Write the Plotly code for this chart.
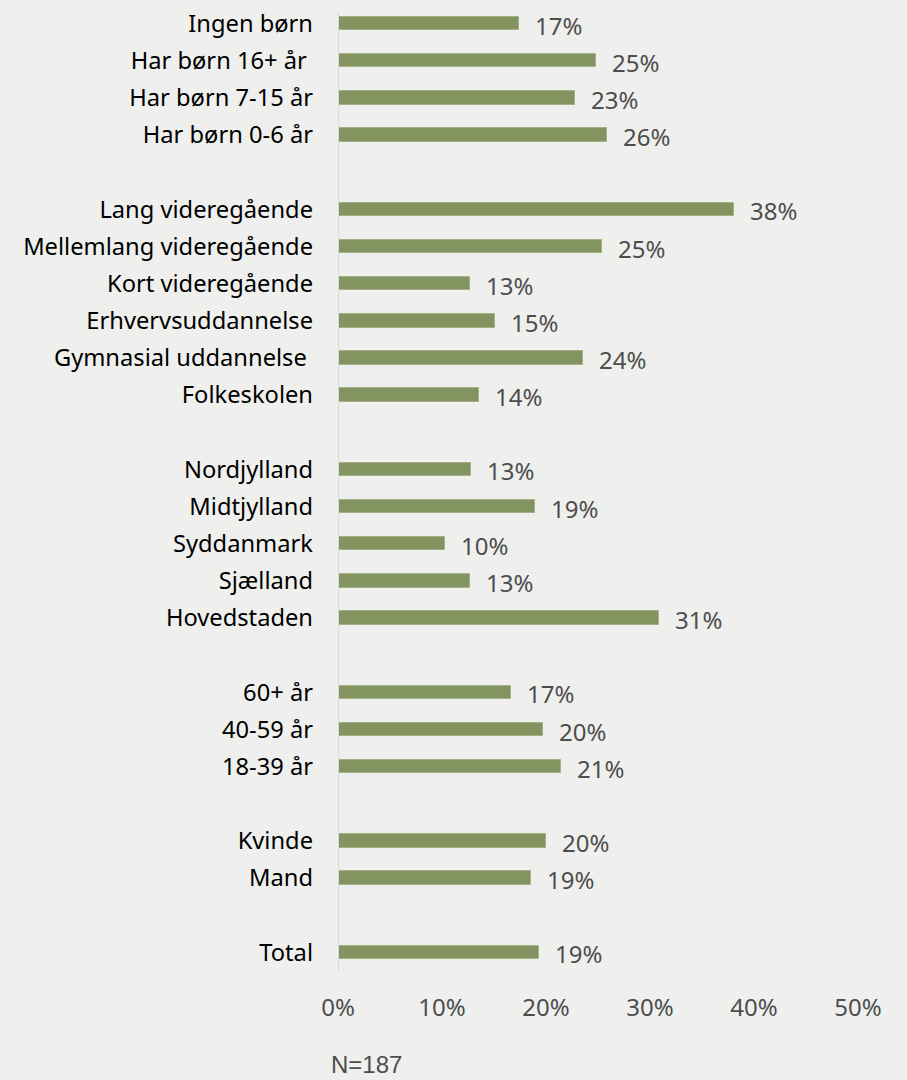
import plotly.graph_objects as go

# Groups (top to bottom); a blank row separates groups
group_children = ["Ingen børn", "Har børn 16+ år\u00a0", "Har børn 7-15 år", "Har børn 0-6 år"]
values_children = [0.174, 0.248, 0.228, 0.259]

group_education = ["Lang videregående", "Mellemlang videregående", "Kort videregående",
                   "Erhvervsuddannelse", "Gymnasial uddannelse\u00a0", "Folkeskolen"]
values_education = [0.381, 0.254, 0.127, 0.151, 0.236, 0.136]

group_region = ["Nordjylland", "Midtjylland", "Syddanmark", "Sjælland", "Hovedstaden"]
values_region = [0.128, 0.189, 0.103, 0.127, 0.309]

group_age = ["60+ år", "40-59 år", "18-39 år"]
values_age = [0.166, 0.197, 0.214]

group_gender = ["Kvinde", "Mand"]
values_gender = [0.200, 0.186]

group_total = ["Total"]
values_total = [0.193]

x_ticks = [0, 0.1, 0.2, 0.3, 0.4, 0.5]
x_ticklabels = ["0%", "10%", "20%", "30%", "40%", "50%"]
note = "N=187"

groups = [(group_children, values_children), (group_education, values_education),
          (group_region, values_region), (group_age, values_age),
          (group_gender, values_gender), (group_total, values_total)]

cats, vals, pos = [], [], []
p = 0
for c, v in groups:
    for ci, vi in zip(c, v):
        cats.append(ci)
        vals.append(vi)
        pos.append(p)
        p += 1
    p += 1  # blank separator row
last = pos[-1]

BG = "#eff0ed"
BAR = "#849460"
GRAY = "#4d4d4d"
FONT = "Noto Sans"

fig = go.Figure()
fig.add_trace(go.Bar(
    x=vals, y=pos, orientation="h", width=0.36,
    marker=dict(color=BAR, line=dict(color="#a3b184", width=1)),
    hoverinfo="skip",
))

for v, yy in zip(vals, pos):
    fig.add_annotation(x=v, y=yy, text=f"{round(v*100)}%", showarrow=False,
                       xanchor="left", yanchor="middle", xshift=14, yshift=-1.5,
                       font=dict(family=FONT, size=24, color=GRAY))

fig.add_annotation(x=0, y=0.0, xref="paper", yref="paper", text=note, showarrow=False,
                   xanchor="left", yanchor="middle", xshift=-8, yshift=-93, borderpad=0,
                   font=dict(family="Liberation Sans", size=24, color=GRAY))

# vertical axis line at 0%
fig.add_shape(type="line", xref="x", yref="y", x0=0, x1=0, y0=pos[0] - 0.3, y1=last + 0.5,
              line=dict(color="#d9d9d9", width=2))

fig.update_layout(
    width=907, height=1080,
    paper_bgcolor=BG, plot_bgcolor=BG,
    margin=dict(l=338, r=49, t=5, b=109),
    showlegend=False,
    bargap=0,
    xaxis=dict(range=[0, 0.5], tickvals=x_ticks, ticktext=x_ticklabels,
               showgrid=False, zeroline=False, showline=False,
               tickfont=dict(family=FONT, size=24, color=GRAY),
               ticks="", ticklabelstandoff=20, fixedrange=True),
    yaxis=dict(range=[last + 0.5, -0.5], tickvals=pos, ticktext=cats,
               showgrid=False, zeroline=False, showline=False,
               tickfont=dict(family=FONT, size=23.7, color="#000000"),
               ticks="", ticklabelstandoff=24, fixedrange=True),
)

fig.write_html("out.html", config={"displayModeBar": False},
               post_script="document.body.style.margin='0';document.body.style.background='" + BG + "';")
